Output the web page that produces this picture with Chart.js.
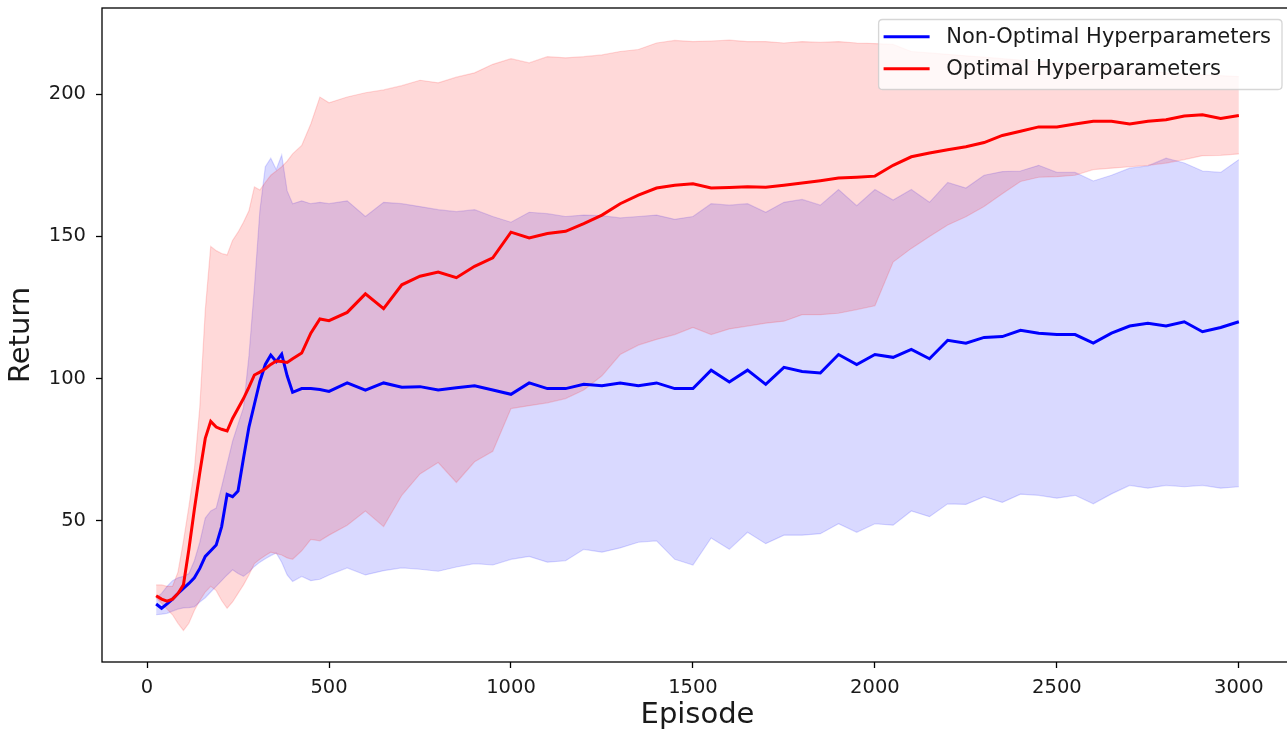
<!DOCTYPE html>
<html>
<head>
<meta charset="utf-8">
<script src="https://cdn.jsdelivr.net/npm/chart.js@4.4.1/dist/chart.umd.min.js"></script>
<style>
html,body{margin:0;padding:0;background:#ffffff;overflow:hidden;}
#wrap{position:absolute;left:0;top:0;width:1300px;height:736px;}
</style>
</head>
<body>
<div id="wrap"><canvas id="c" width="1300" height="736"></canvas></div>
<script>
// ---------------- data ----------------
const EPISODES = [25,40,55,70,85,100,115,130,145,160,175,190,205,220,235,250,265,280,295,310,325,340,355,370,385,400,
  425,450,475,500,
  550,600,650,700,750,800,850,900,950,1000,1050,1100,1150,1200,1250,1300,1350,1400,1450,1500,
  1550,1600,1650,1700,1750,1800,1850,1900,1950,2000,2050,2100,2150,2200,2250,2300,
  2350,2400,2450,2500,2550,2600,2650,2700,2750,2800,2850,2900,2950,3000];

const NON_OPT_MEAN = [20.8,19.3,20.8,22.5,24.5,26.3,28,30,33.3,37.5,39.5,41.5,48,59.3,58.5,60.5,72,83,91,99,105,108.3,106,108.6,101,95.2,
  96.5,96.5,96.2,95.5,
  98.5,96,98.5,97,97.2,96,96.8,97.5,96,94.5,98.5,96.5,96.5,98,97.5,98.5,97.5,98.5,96.5,96.5,
  103,98.8,103,98,104,102.5,102,108.5,105,108.5,107.5,110.3,107,113.5,112.5,114.5,
  114.8,117,116,115.5,115.5,112.5,116,118.5,119.5,118.5,120,116.5,118,120];

const NON_OPT_UPPER = [23,24.5,27,29,30,30.5,31.5,36,42.5,51,53.5,54.5,62,70,78,84,89.8,108,132,159,174.5,177.5,173.5,178.6,166,161.5,
  162.5,161.5,162,161.5,
  162.5,157,162,161.5,160.5,159.4,158.7,159.4,157,155,158.5,158,157,157.5,157.3,156.5,157,157.5,156,157,
  161.5,161,161.5,158.5,162,163,161,166.5,160.8,166.5,162.8,166.5,162,169,167,171.5,
  172.8,173,175,172.5,172.5,169.5,171.5,174,174.8,177.5,175.8,173,172.5,177];

const NON_OPT_LOWER = [17,17.2,17.5,18.3,19,19.4,19.5,19.8,21.5,23,25,27,29,31,32.8,31.5,30.5,32,34,35.5,36.7,37.8,38.7,35.5,31,28.7,
  30.5,29,29.5,31,
  33.5,31,32.5,33.5,33,32.3,33.8,35,34.5,36.5,37.5,35.5,36,40,39,40.5,42.5,43,36.5,34.5,
  44,40,46,42,45,45,45.5,49,46,49,48.5,53.5,51.5,56,55.8,58.5,
  56.5,59.4,59,58,59,56,59.5,62.5,61.5,62.5,62,62.5,61.5,62];

const OPT_MEAN = [23.7,22.5,21.8,22.5,24.5,27.5,40,54,67,79,85,83,82.2,81.6,86,89.5,93,97,101.3,102.3,103.5,105,106.2,106,105.7,107,
  109,116,121,120.4,
  123.3,129.8,124.6,133,136,137.5,135.5,139.5,142.5,151.5,149.5,151,151.8,154.5,157.5,161.5,164.5,167,168,168.5,
  167,167.2,167.5,167.3,168,168.8,169.6,170.5,170.8,171.2,175,178,179.3,180.5,181.5,183,
  185.5,187,188.5,188.5,189.5,190.5,190.5,189.5,190.5,191,192.3,192.8,191.5,192.5];

const OPT_UPPER = [27.5,27.5,27,27,32,42.8,55,68,90,124,146.5,145,144,143.5,148.6,151.5,155,159,167.4,166.3,169,171.5,173,174.5,176.5,179,
  182,189.5,199,197,
  199,200.5,201.5,203,204.9,204,206,207.5,210.5,212.5,211,213.2,212.8,213.2,213.8,215,215.7,218,218.9,218.5,
  218.7,219,218.5,218.5,218,218.5,218.2,218.5,218,217.8,217.5,215,214.5,214,213.5,213,
  212.5,212,211.5,211,210.5,210,209.5,208.5,208,207.5,207,206.8,206.5,206.2];

const OPT_LOWER = [23,21,19,17,14,11.5,14,18.5,22,25,27,25.5,22,19.3,21.5,24.5,27.5,31,35,36.5,37.8,39,38.5,38,37,36.5,
  39.5,43.5,43,45,
  48.5,53.5,48,59,66.5,70.5,63.5,70.8,74.5,89.5,90.5,91.5,93,96,101,108.5,111.8,113.8,115.5,118,
  115.5,117.5,118.5,119.5,120.2,122.5,122.5,123,124.3,125.6,141,145.8,150,154,156.9,160.5,
  165,169.3,170.8,171,171.5,173.5,174,174.5,175,175.8,177,178.4,178.5,179];

const X_TICKS = [0,500,1000,1500,2000,2500,3000];
const Y_TICKS = [50,100,150,200];
const SERIES_LABELS = ['Non-Optimal Hyperparameters','Optimal Hyperparameters'];
const X_TITLE = 'Episode';
const Y_TITLE = 'Return';

// ---------------- chart ----------------
const FONT = "'DejaVu Sans', sans-serif";
function pts(ys){ return EPISODES.map((x,i)=>({x:x, y:ys[i]})); }

const framePlugin = {
  id:'frame',
  afterDatasetsDraw(chart){
    const ca = chart.chartArea, ctx = chart.ctx;
    ctx.save();
    ctx.strokeStyle = '#000';
    ctx.lineWidth = 1.3;
    ctx.strokeRect(ca.left, ca.top, ca.right-ca.left, ca.bottom-ca.top);
    ctx.restore();
  }
};

const legendPlugin = {
  id:'mplLegend',
  afterDraw(chart){
    const ca = chart.chartArea, ctx = chart.ctx;
    const items = [
      {label: SERIES_LABELS[0], color: chart.data.datasets[0].borderColor},
      {label: SERIES_LABELS[1], color: chart.data.datasets[1].borderColor}
    ];
    ctx.save();
    ctx.font = '21px ' + FONT;
    let tw = 0;
    items.forEach(it => { tw = Math.max(tw, ctx.measureText(it.label).width); });
    const padL = 5, lineLen = 46, gap = 16.7, padR = 11;
    const w = padL + lineLen + gap + tw + padR;
    const h = 70;
    const right = ca.right - 11;
    const x0 = right - w, y0 = ca.top + 11.5;
    const r = 4;
    ctx.beginPath();
    ctx.moveTo(x0+r, y0);
    ctx.lineTo(x0+w-r, y0); ctx.quadraticCurveTo(x0+w, y0, x0+w, y0+r);
    ctx.lineTo(x0+w, y0+h-r); ctx.quadraticCurveTo(x0+w, y0+h, x0+w-r, y0+h);
    ctx.lineTo(x0+r, y0+h); ctx.quadraticCurveTo(x0, y0+h, x0, y0+h-r);
    ctx.lineTo(x0, y0+r); ctx.quadraticCurveTo(x0, y0, x0+r, y0);
    ctx.closePath();
    ctx.fillStyle = 'rgba(255,255,255,0.8)';
    ctx.fill();
    ctx.strokeStyle = 'rgba(204,204,204,0.8)';
    ctx.lineWidth = 1.3;
    ctx.stroke();
    items.forEach((it,i) => {
      const y = y0 + 17.2 + i*32;
      ctx.strokeStyle = it.color;
      ctx.lineWidth = 3;
      ctx.beginPath();
      ctx.moveTo(x0+padL, y); ctx.lineTo(x0+padL+lineLen, y);
      ctx.stroke();
      ctx.fillStyle = '#1a1a1a';
      ctx.textBaseline = 'middle';
      ctx.textAlign = 'left';
      ctx.fillText(it.label, x0+padL+lineLen+gap, y+1);
    });
    ctx.restore();
  }
};

const bandCommon = {pointRadius:0, borderWidth:1.2, tension:0};

new Chart(document.getElementById('c'), {
  type:'line',
  data:{
    datasets:[
      {label: SERIES_LABELS[0], data: pts(NON_OPT_MEAN), borderColor:'#0000ff', borderWidth:3, pointRadius:0, fill:false, order:1, tension:0},
      {label: SERIES_LABELS[1], data: pts(OPT_MEAN), borderColor:'#ff0000', borderWidth:3, pointRadius:0, fill:false, order:0, tension:0},
      Object.assign({label:'nonopt_upper', data: pts(NON_OPT_UPPER), borderColor:'rgba(0,0,255,0.15)', backgroundColor:'rgba(0,0,255,0.15)', fill:'+1', order:10}, bandCommon),
      Object.assign({label:'nonopt_lower', data: pts(NON_OPT_LOWER), borderColor:'rgba(0,0,255,0.15)', fill:false, order:10}, bandCommon),
      Object.assign({label:'opt_upper', data: pts(OPT_UPPER), borderColor:'rgba(255,0,0,0.15)', backgroundColor:'rgba(255,0,0,0.15)', fill:'+1', order:5}, bandCommon),
      Object.assign({label:'opt_lower', data: pts(OPT_LOWER), borderColor:'rgba(255,0,0,0.15)', fill:false, order:5}, bandCommon)
    ]
  },
  options:{
    responsive:false,
    animation:false,
    devicePixelRatio:1,
    layout:{padding:{top:8, right:7, left:0, bottom:0}},
    plugins:{legend:{display:false}, tooltip:{enabled:false}},
    scales:{
      x:{
        type:'linear', min:-123.75, max:3148.75,
        afterBuildTicks: s => { s.ticks = X_TICKS.map(v=>({value:v})); },
        afterFit: s => { s.height = 74; s.paddingLeft = 0; s.paddingRight = 0; },
        ticks:{font:{family:FONT, size:19.5}, color:'#1a1a1a', padding:8, maxRotation:0, autoSkip:false,
               callback: v => String(v)},
        grid:{drawOnChartArea:false, drawTicks:true, tickLength:6, tickWidth:1.3, tickColor:'#000'},
        border:{display:false},
        title:{display:true, text:X_TITLE, font:{family:FONT, size:29}, color:'#1a1a1a', padding:{top:0, bottom:3}}
      },
      y:{
        type:'linear', min:0.4, max:230.3,
        afterBuildTicks: s => { s.ticks = Y_TICKS.map(v=>({value:v})); },
        afterFit: s => { s.width = 102; s.paddingTop = 0; s.paddingBottom = 0; },
        ticks:{font:{family:FONT, size:19.5}, color:'#1a1a1a', padding:10, autoSkip:false,
               callback: v => String(v)},
        grid:{drawOnChartArea:false, drawTicks:true, tickLength:6, tickWidth:1.3, tickColor:'#000'},
        border:{display:false},
        title:{display:true, text:Y_TITLE, font:{family:FONT, size:29}, color:'#1a1a1a', padding:{top:4, bottom:0}}
      }
    }
  },
  plugins:[framePlugin, legendPlugin]
});
</script>
</body>
</html>
